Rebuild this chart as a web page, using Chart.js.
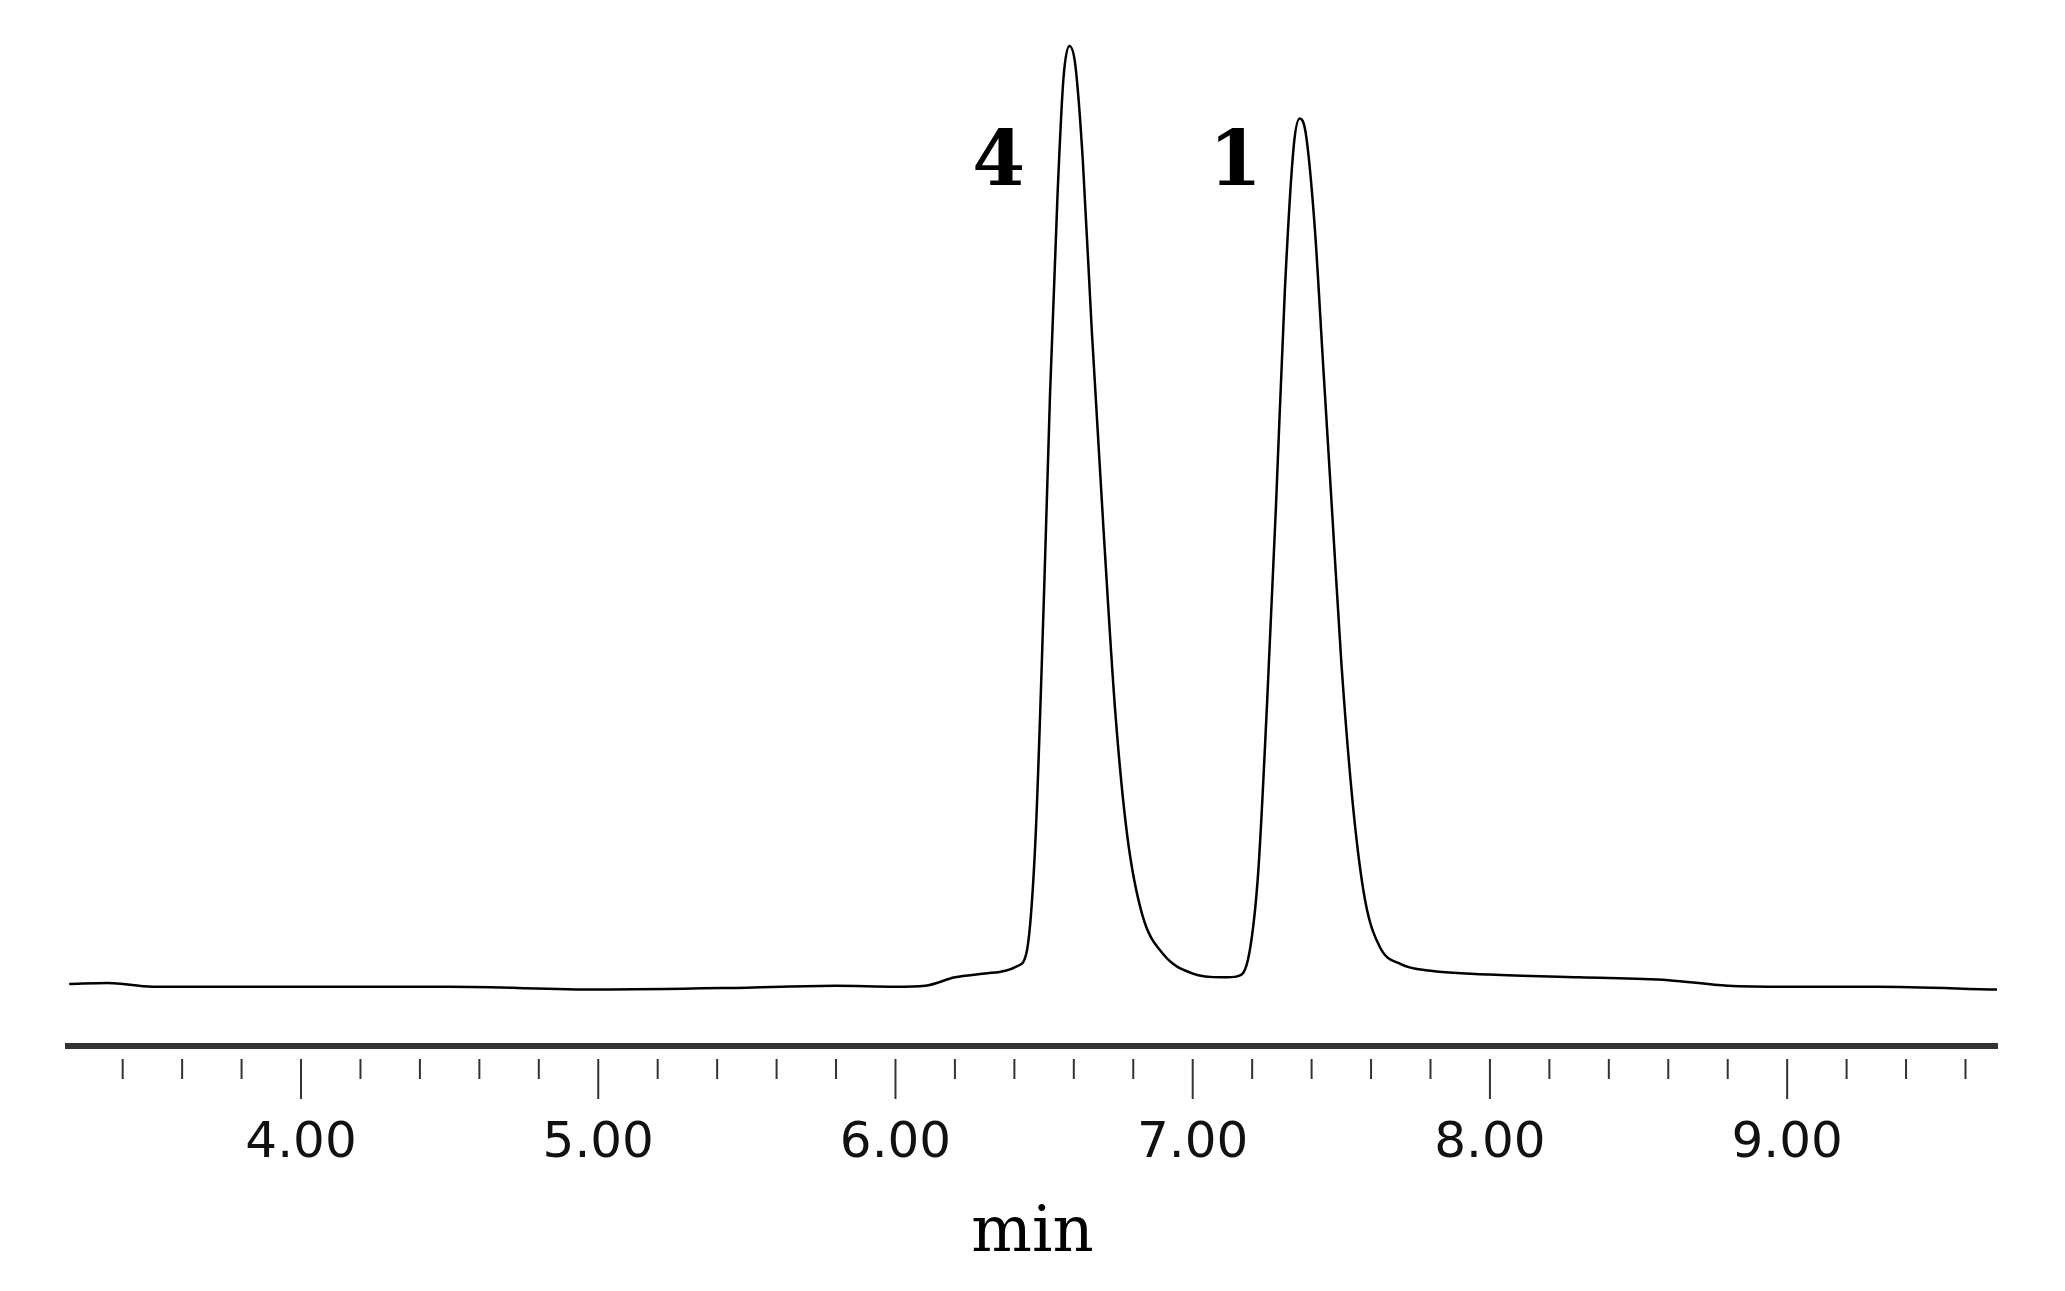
<!DOCTYPE html>
<html>
<head>
<meta charset="utf-8">
<script src="https://cdn.jsdelivr.net/npm/chart.js@4/dist/chart.umd.min.js"></script>
<style>
  html, body { margin: 0; padding: 0; background: #fff; }
  #wrap { width: 2065px; height: 1291px; }
</style>
</head>
<body>
<div id="wrap"><canvas id="chrom"></canvas></div>
<script>
// retention time (min) and detector signal (relative)
const times = [3.22, 3.35, 3.5, 4.0, 4.5, 5.0, 5.5, 5.8, 6.0, 6.1, 6.2, 6.3, 6.37, 6.41, 6.44, 6.47, 6.50, 6.52, 6.545, 6.565, 6.585, 6.605, 6.63, 6.66, 6.70, 6.74, 6.78, 6.83, 6.9, 7.0, 7.1, 7.15, 7.19, 7.22, 7.25, 7.28, 7.31, 7.34, 7.36, 7.38, 7.41, 7.44, 7.47, 7.50, 7.54, 7.58, 7.63, 7.7, 7.8, 8.0, 8.3, 8.6, 8.8, 9.0, 9.3, 9.706];
const signal = [0.3, 0.4, 0.0, 0.0, 0.0, -0.3, -0.1, 0.1, 0.0, 0.1, 1.0, 1.4, 1.7, 2.2, 3.5, 15, 42, 63, 84, 96.5, 100, 98, 88, 70, 48.6, 29, 16, 7.7, 3.5, 1.4, 1.0, 1.1, 3.5, 12, 30, 51, 74, 89.4, 92.3, 90.8, 81, 65.5, 50, 34.5, 19, 9.2, 4.2, 2.4, 1.7, 1.3, 1.0, 0.7, 0.1, 0.0, 0.0, -0.3];
const peakNames = ['4', '1'];
const peakLabelTimes = [6.347, 7.144];
const peakLabelLevels = [87.3, 87.3];

const tickMarks = {
  id: 'tickMarks',
  afterDraw(chart) {
    const { ctx } = chart;
    const x = chart.scales.x;
    const y0 = x.top;
    ctx.save();
    ctx.strokeStyle = '#333';
    ctx.lineWidth = 2;
    for (let i = 17; i <= 48; i++) {
      const v = i / 5;
      const px = x.getPixelForValue(v);
      const major = i % 5 === 0;
      ctx.beginPath();
      ctx.moveTo(px, y0 + 13);
      ctx.lineTo(px, y0 + (major ? 53 : 33));
      ctx.stroke();
    }
    // peak labels
    const y = chart.scales.y;
    ctx.fillStyle = '#000';
    ctx.font = 'bold 76px "DejaVu Serif"';
    ctx.textAlign = 'center';
    ctx.textBaseline = 'middle';
    peakNames.forEach((n, i) => {
      ctx.fillText(n, x.getPixelForValue(peakLabelTimes[i]), y.getPixelForValue(peakLabelLevels[i]));
    });
    ctx.restore();
  }
};

new Chart(document.getElementById('chrom'), {
  type: 'line',
  data: {
    datasets: [{
      data: times.map((t, i) => ({ x: t, y: signal[i] })),
      borderColor: '#000',
      borderWidth: 2.5,
      pointRadius: 0,
      cubicInterpolationMode: 'monotone',
      fill: false,
    }],
  },
  options: {
    responsive: true,
    maintainAspectRatio: false,
    animation: false,
    layout: { padding: { left: 40, right: 30, top: 0, bottom: 0 } },
    plugins: { legend: { display: false }, tooltip: { enabled: false } },
    scales: {
      x: {
        type: 'linear',
        min: 3.216,
        max: 9.706,
        afterFit(scale) { scale.height = 245; },
        grid: { display: false, drawTicks: false },
        border: { display: true, color: '#333', width: 6 },
        ticks: {
          stepSize: 0.2,
          autoSkip: false,
          maxRotation: 0,
          padding: 68,
          color: '#111',
          font: { family: '"DejaVu Sans"', size: 50 },
          callback: (v) => (Math.abs(v - Math.round(v)) < 1e-6 ? v.toFixed(2) : ''),
        },
        title: {
          display: true,
          text: 'min',
          color: '#000',
          font: { family: '"DejaVu Serif"', size: 64 },
          padding: { top: 0, bottom: 18 },
        },
      },
      y: {
        display: false,
        min: -6.3,
        max: 104.9,
      },
    },
  },
  plugins: [tickMarks],
});
</script>
</body>
</html>
